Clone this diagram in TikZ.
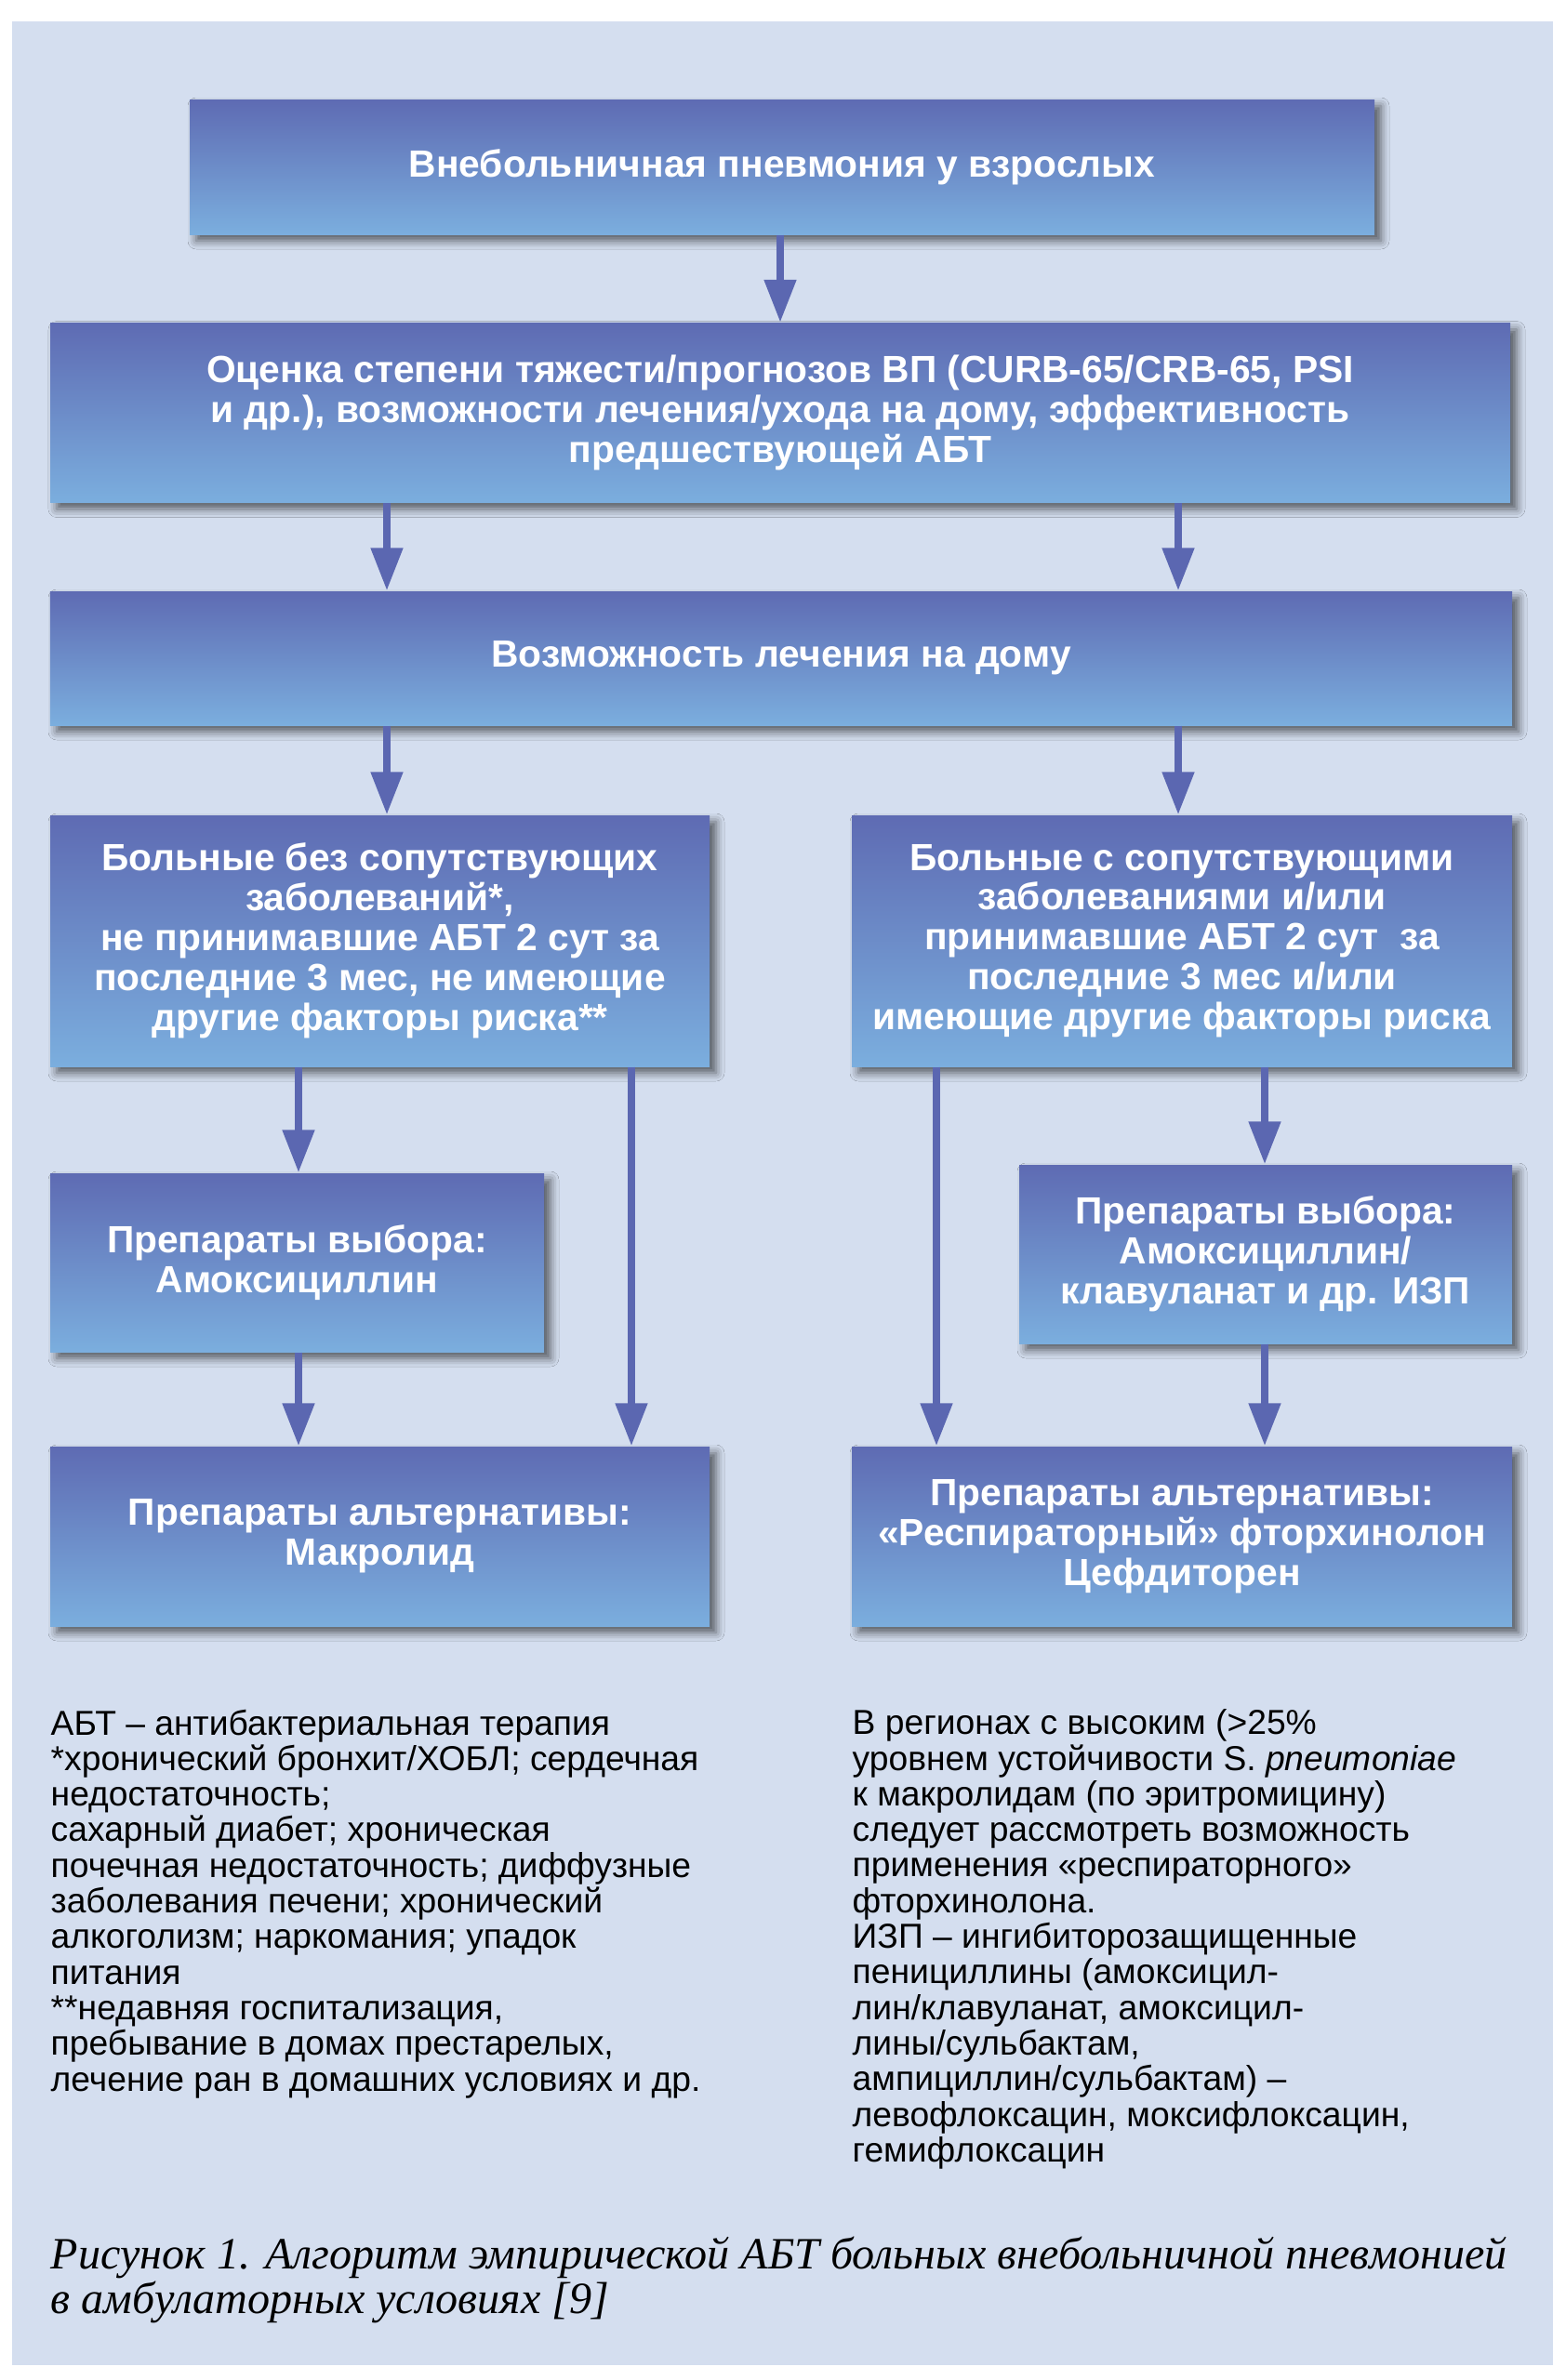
\documentclass[tikz,border=0pt]{standalone}
\usepackage{fontspec}
\setmainfont{Liberation Sans}
\newfontfamily\capfont{Liberation Serif}
\usetikzlibrary{positioning, arrows.meta, shadows.blur, calc}
\definecolor{panelcolor}{RGB}{212,222,239}
\definecolor{boxtop}{RGB}{94,107,179}
\definecolor{boxbottom}{RGB}{123,174,222}
\definecolor{arrowcolor}{RGB}{91,103,177}

\begin{document}
\begin{tikzpicture}[
    box/.style={rectangle, top color=boxtop, bottom color=boxbottom, draw=none, text=white, align=center, inner sep=0pt, font=\fontsize{11.6}{12.2}\selectfont\bfseries, blur shadow={shadow xshift=0.7mm, shadow yshift=-0.7mm, shadow blur radius=0.9mm, shadow opacity=60}},
    arrow/.style={-{Triangle[length=4.6mm, width=3.3mm]}, line width=0.8mm, arrowcolor},
    note/.style={anchor=north west, align=left, inner sep=0pt, font=\fontsize{10.6}{10.9}\selectfont}
]
    % Фон
    \useasboundingbox (0,0) rectangle (16.84,-25.60);
    \fill[panelcolor] (0.13,-0.23) rectangle (16.70,-25.44);

    % Колонки стрелок
    \coordinate (xm) at (8.39,0);
    \coordinate (xl) at (4.16,0);
    \coordinate (xr) at (12.67,0);
    \coordinate (xll) at (3.21,0);
    \coordinate (xlr) at (6.79,0);
    \coordinate (xrl) at (10.07,0);
    \coordinate (xrr) at (13.60,0);

    % Верхние блоки
    \node[box, minimum width=12.74cm, minimum height=1.45cm] (start) at (8.41,-1.795) {Внебольничная пневмония у взрослых};
    \node[box, minimum width=15.70cm, minimum height=1.93cm] (eval) at (8.39,-4.44) {Оценка степени тяжести/прогнозов ВП (CURB-65/CRB-65, PSI\\и др.), возможности лечения/ухода на дому, эффективность\\предшествующей АБТ};
    \node[box, minimum width=15.72cm, minimum height=1.44cm] (home) at (8.40,-7.08) {Возможность лечения на дому};

    % Левая ветвь
    \node[box, minimum width=7.09cm, minimum height=2.70cm] (noco) at (4.085,-10.12) {Больные без сопутствующих\\заболеваний*,\\не принимавшие АБТ 2 сут за\\последние 3 мес, не имеющие\\другие факторы риска**};
    \node[box, minimum width=5.31cm, minimum height=1.92cm] (choiceL) at (3.195,-13.58) {Препараты выбора:\\Амоксициллин};
    \node[box, minimum width=7.09cm, minimum height=1.93cm] (altL) at (4.085,-16.525) {Препараты альтернативы:\\Макролид};

    % Правая ветвь
    \node[box, minimum width=7.10cm, minimum height=2.70cm] (comor) at (12.71,-10.12) {Больные с сопутствующими\\заболеваниями и/или\\принимавшие АБТ 2 сут\ \ за\\последние 3 мес и/или\\имеющие другие факторы риска};
    \node[box, minimum width=5.30cm, minimum height=1.92cm] (choiceR) at (13.61,-13.49) {Препараты выбора:\\Амоксициллин/\\клавуланат и др. ИЗП};
    \node[box, minimum width=7.10cm, minimum height=1.93cm] (altR) at (12.71,-16.525) {Препараты альтернативы:\\«Респираторный» фторхинолон\\Цефдиторен};

    % Стрелки
    \draw[arrow] (start.south -| xm) -- (eval.north -| xm);
    \draw[arrow] (eval.south -| xl) -- (home.north -| xl);
    \draw[arrow] (eval.south -| xr) -- (home.north -| xr);
    \draw[arrow] (home.south -| xl) -- (noco.north -| xl);
    \draw[arrow] (home.south -| xr) -- (comor.north -| xr);
    \draw[arrow] (noco.south -| xll) -- (choiceL.north -| xll);
    \draw[arrow] (choiceL.south -| xll) -- (altL.north -| xll);
    \draw[arrow] (noco.south -| xlr) -- (altL.north -| xlr);
    \draw[arrow] (comor.south -| xrl) -- (altR.north -| xrl);
    \draw[arrow] (comor.south -| xrr) -- (choiceR.north -| xrr);
    \draw[arrow] (choiceR.south -| xrr) -- (altR.north -| xrr);

    % Примечания
    \node[note] (notesL) at (0.54,-18.38) {АБТ – антибактериальная терапия\\*хронический бронхит/ХОБЛ; сердечная\\недостаточность;\\сахарный диабет; хроническая\\почечная недостаточность; диффузные\\заболевания печени; хронический\\алкоголизм; наркомания; упадок\\питания\\**недавняя госпитализация,\\пребывание в домах престарелых,\\лечение ран в домашних условиях и др.};
    \node[note] (notesR) at (9.16,-18.38) {В регионах с высоким (>25\%\\уровнем устойчивости S. \textit{pneumoniae}\\к макролидам (по эритромицину)\\следует рассмотреть возможность\\применения «респираторного»\\фторхинолона.\\ИЗП – ингибиторозащищенные\\пенициллины (амоксицил-\\лин/клавуланат, амоксицил-\\лины/сульбактам,\\ампициллин/сульбактам) –\\левофлоксацин, моксифлоксацин,\\гемифлоксацин};

    % Подпись
    \node[note, font=\capfont\itshape\fontsize{13.7}{13.8}\selectfont] (caption) at (0.54,-24.05) {Рисунок 1. Алгоритм эмпирической АБТ больных внебольничной пневмонией\\в амбулаторных условиях [9]};
\end{tikzpicture}
\end{document}
